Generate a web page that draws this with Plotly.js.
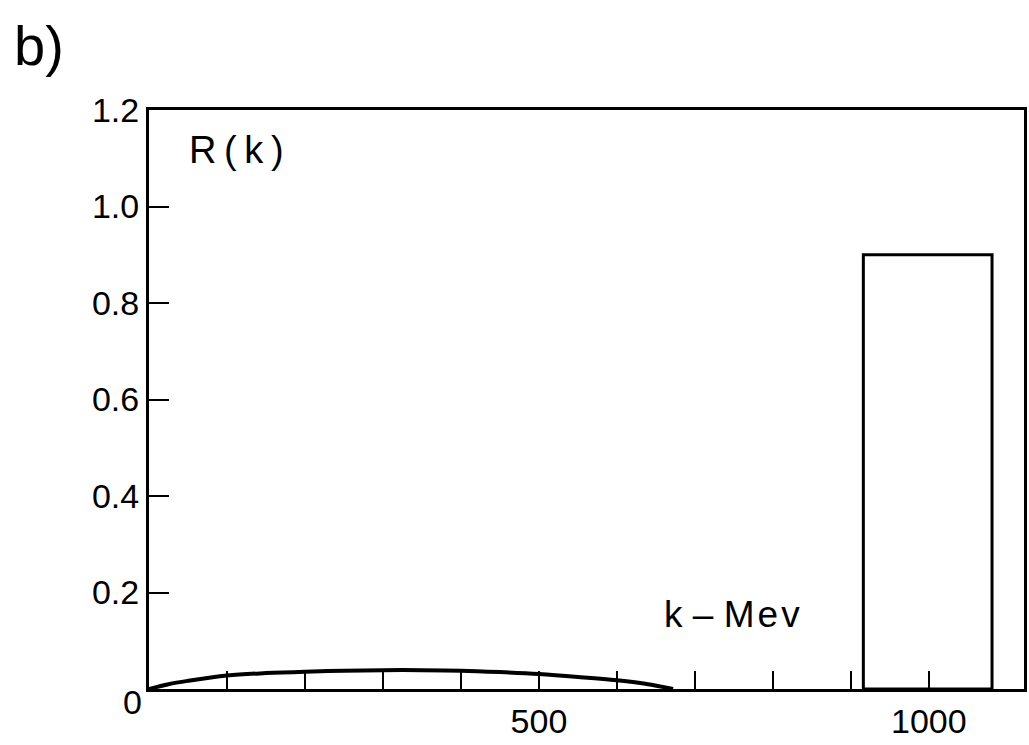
<!DOCTYPE html>
<html>
<head>
<meta charset="utf-8">
<script src="https://cdn.plot.ly/plotly-3.0.1.min.js"></script>
<style>html,body{margin:0;padding:0;background:#fff;}#chart{width:1029px;height:745px;}</style>
</head>
<body>
<div id="chart"></div>
<script>
// Data
var curveK = [0, 25, 50, 100, 150, 200, 250, 300, 350, 400, 450, 500, 550, 600, 640, 672];
var curveR = [0, 0.010, 0.017, 0.028, 0.033, 0.036, 0.038, 0.039, 0.039, 0.038, 0.035, 0.031, 0.025, 0.018, 0.010, 0];
var barK = [998.5];
var barWidth = [165];
var barR = [0.9];
var xTickVals = [100, 200, 300, 400, 500, 600, 700, 800, 900, 1000];
var xTickText = ['', '', '', '', '500', '', '', '', '', '1000'];
var yTickVals = [0.2, 0.4, 0.6, 0.8, 1.0, 1.2];
var yTickText = ['0.2', '0.4', '0.6', '0.8', '1.0', '1.2'];

var FONT = 'Liberation Sans, Arial, sans-serif';

var traces = [
  {
    type: 'bar', x: barK, y: barR, width: barWidth,
    marker: {color: 'rgba(255,255,255,0)', line: {color: '#000', width: 3}},
    hoverinfo: 'none', showlegend: false
  },
  {
    type: 'scatter', mode: 'lines', x: curveK, y: curveR,
    line: {color: '#000', width: 4, shape: 'spline'},
    hoverinfo: 'none', showlegend: false
  }
];

var layout = {
  width: 1029, height: 745,
  margin: {l: 149, r: 5, t: 110, b: 56},
  paper_bgcolor: '#fff', plot_bgcolor: '#fff',
  font: {family: FONT, color: '#000', size: 30},
  xaxis: {
    range: [0, 1122], showgrid: false, zeroline: false,
    showline: true, linecolor: '#000', linewidth: 3, mirror: true,
    ticks: 'inside', ticklen: 18, tickwidth: 2, tickcolor: '#000',
    tickvals: xTickVals, ticktext: xTickText,
    tickfont: {family: FONT, size: 34, color: '#000'},
    ticklabelstandoff: 0
  },
  yaxis: {
    range: [0, 1.2], showgrid: false, zeroline: false,
    showline: true, linecolor: '#000', linewidth: 3, mirror: true,
    ticks: 'inside', ticklen: 20, tickwidth: 2, tickcolor: '#000',
    tickvals: yTickVals, ticktext: yTickText,
    tickfont: {family: FONT, size: 34, color: '#000'},
    ticklabelstandoff: 0
  },
  annotations: [
    {text: 'b)', xref: 'paper', yref: 'paper', x: -0.157, y: 1.112, xanchor: 'left', yanchor: 'middle',
     showarrow: false, font: {family: FONT, size: 56, color: '#000'}},
    {text: 'R\u2009(\u2009k\u2009)', xref: 'x', yref: 'paper', x: 0, y: 1, xanchor: 'left', yanchor: 'middle',
     xshift: 38, yshift: -40, showarrow: false, font: {family: FONT, size: 38, color: '#000'}},
    {text: 'k \u2013 M\u200ae\u200av', xref: 'x', yref: 'y', x: 748, y: 0.155, xanchor: 'center', yanchor: 'middle',
     showarrow: false, font: {family: FONT, size: 37, color: '#000'}},
    {text: '0', xref: 'x', yref: 'y', x: 0, y: 0, xanchor: 'center', yanchor: 'middle',
     xshift: -17, yshift: -13, showarrow: false, font: {family: FONT, size: 34, color: '#000'}}
  ]
};

Plotly.newPlot('chart', traces, layout, {staticPlot: true, displayModeBar: false});
</script>
</body>
</html>
